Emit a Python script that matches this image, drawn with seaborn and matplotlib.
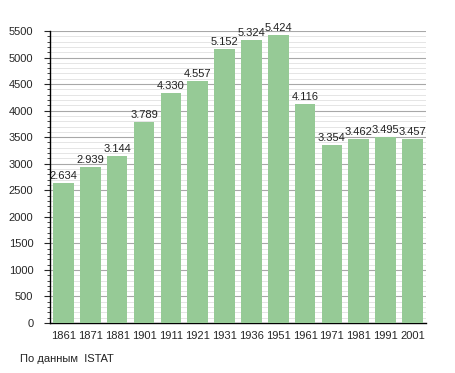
import pandas as pd
import seaborn as sns
import matplotlib.pyplot as plt
from matplotlib.ticker import MultipleLocator

# -----------------------------
# Data
# -----------------------------
years = ["1861", "1871", "1881", "1901", "1911", "1921", "1931",
         "1936", "1951", "1961", "1971", "1981", "1991", "2001"]
population = [2634, 2939, 3144, 3789, 4330, 4557, 5152,
              5324, 5424, 4116, 3354, 3462, 3495, 3457]
labels = ["2.634", "2.939", "3.144", "3.789", "4.330", "4.557", "5.152",
          "5.324", "5.424", "4.116", "3.354", "3.462", "3.495", "3.457"]

df = pd.DataFrame({"Year": years, "Population": population})

# -----------------------------
# Plot
# -----------------------------
sns.set_style("white")
plt.rcParams["font.family"] = ["Liberation Sans", "DejaVu Sans"]

fig = plt.figure(figsize=(4.55, 3.73), dpi=100)
ax = fig.add_axes([0.110, 0.134, 0.826, 0.783])

sns.barplot(
    data=df,
    x="Year",
    y="Population",
    color="#96ca96",
    saturation=1,
    width=0.77,
    linewidth=0,
    ax=ax,
    zorder=3
)

for i, (v, t) in enumerate(zip(population, labels)):
    ax.text(i, v + 40, t, ha="center", va="bottom", fontsize=8, color="#222222")

ax.set_ylim(0, 5500)
ax.set_xlim(-0.5, len(years) - 0.5)
ax.yaxis.set_major_locator(MultipleLocator(500))
ax.yaxis.set_minor_locator(MultipleLocator(100))
ax.grid(which="major", axis="y", color="#a8a8a8", linewidth=0.8, zorder=0)
ax.grid(which="minor", axis="y", color="#e0e0e0", linewidth=0.6, zorder=0)
ax.set_axisbelow(True)

for side in ["top", "right"]:
    ax.spines[side].set_visible(False)
ax.spines["left"].set_color("black")
ax.spines["bottom"].set_color("black")
ax.spines["left"].set_linewidth(1.0)
ax.spines["bottom"].set_linewidth(1.0)

ax.tick_params(axis="y", which="major", left=True, length=4, width=0.8,
               labelsize=8, pad=8)
ax.tick_params(axis="y", which="minor", left=True, length=2, width=0.6)
ax.tick_params(axis="x", bottom=False, labelsize=8, pad=2)

ax.set_xlabel("")
ax.set_ylabel("")

fig.text(0.044, 0.03, "По данным  ISTAT", fontsize=8, color="#222222")

plt.savefig("out.png", dpi=100)
